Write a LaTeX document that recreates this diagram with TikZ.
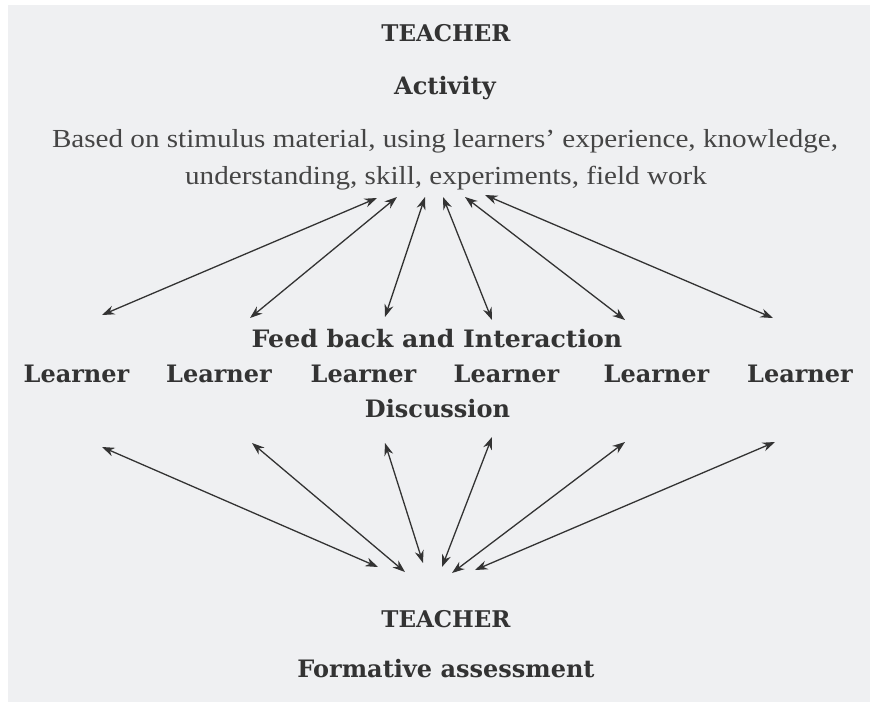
\documentclass[tikz,border=0pt]{standalone}
\usepackage{fontspec}
\setmainfont{Liberation Serif}
\newfontfamily\slab{DejaVu Serif}
\usetikzlibrary{arrows.meta}
\definecolor{bg}{HTML}{EFF0F2}
\definecolor{ink}{HTML}{333333}
\definecolor{inkl}{HTML}{454545}
\newcommand{\widen}[1]{\scalebox{1.12}[1]{#1}}
\tikzset{
  head/.style={font=\slab\bfseries\fontsize{24}{28}\selectfont, text=ink, anchor=base, inner sep=0pt},
  title/.style={head, font=\slab\bfseries\fontsize{23}{27}\selectfont},
  body/.style={font=\fontsize{26}{30}\selectfont, text=inkl, anchor=base, inner sep=0pt},
  dbl/.style={{Stealth[length=12.5pt,width=9pt]}-{Stealth[length=12.5pt,width=9pt]}, line width=1.3pt, draw=ink},
}
\begin{document}
\begin{tikzpicture}[x=1pt,y=-1pt]
\fill[white] (0,0) rectangle (870,702);
\fill[bg] (8,5) rectangle (870,702);
\useasboundingbox (0,0) rectangle (870,702);
% texts
\node[title] (t1) at (446,41) {TEACHER};
\node[head] (act) at (445,94) {Activity};
\node[body] (b1) at (445,147) {\widen{Based on stimulus material, using learners’ experience, knowledge,}};
\node[body] (b2) at (446,184) {\widen{understanding, skill, experiments, field work}};
\node[head] (fb) at (437,347) {\scalebox{1.05}[1]{Feed back and Interaction}};
\node[head] (l1) at (76.5,382) {Learner};
\node[head] (l2) at (219,382) {Learner};
\node[head] (l3) at (363.5,382) {Learner};
\node[head] (l4) at (506.5,382) {Learner};
\node[head] (l5) at (656.5,382) {Learner};
\node[head] (l6) at (800,382) {Learner};
\node[head] (dis) at (437.5,417) {Discussion};
\node[title] (t2) at (446,627) {TEACHER};
\node[head] (fa) at (446,677) {Formative assessment};
% arrow end points
\coordinate (u1) at (377,198); \coordinate (d1) at (102,315);
\coordinate (u2) at (397,197); \coordinate (d2) at (250,318);
\coordinate (u3) at (425,197); \coordinate (d3) at (385,317);
\coordinate (u4) at (443,197); \coordinate (d4) at (492,320);
\coordinate (u5) at (465,197); \coordinate (d5) at (625,320);
\coordinate (u6) at (485,195); \coordinate (d6) at (773,318);
\coordinate (p1) at (102,447); \coordinate (q1) at (378,567);
\coordinate (p2) at (252,443); \coordinate (q2) at (405,572);
\coordinate (p3) at (385,443); \coordinate (q3) at (423,563);
\coordinate (p4) at (492,437); \coordinate (q4) at (442,567);
\coordinate (p5) at (625,442); \coordinate (q5) at (452,573);
\coordinate (p6) at (775,442); \coordinate (q6) at (475,570);
\foreach \i in {1,...,6} {
  \draw[dbl] (u\i) -- (d\i);
  \draw[dbl] (p\i) -- (q\i);
}
\end{tikzpicture}
\end{document}
